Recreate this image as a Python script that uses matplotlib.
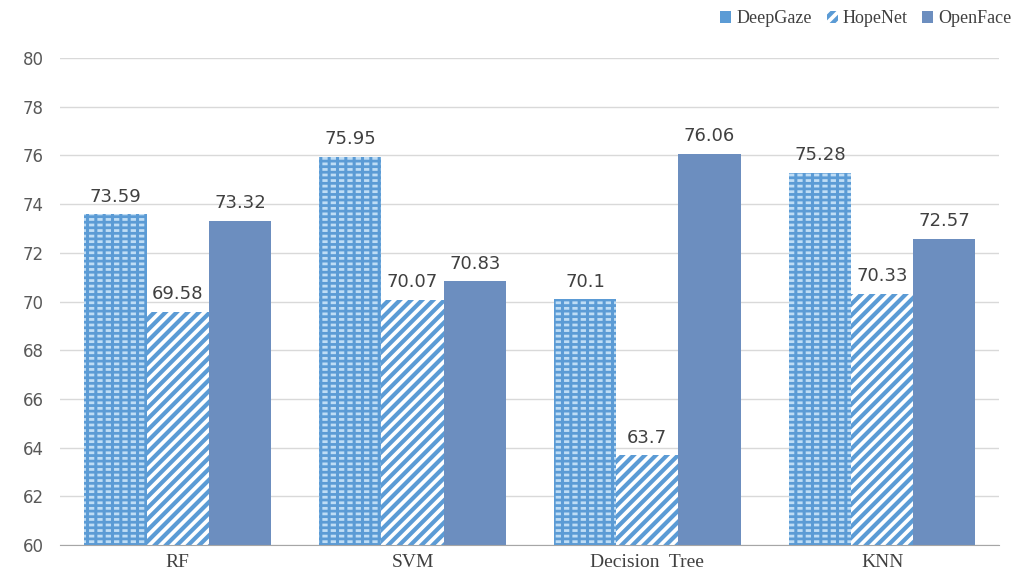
import matplotlib.pyplot as plt
import numpy as np

categories = ["RF", "SVM", "Decision  Tree", "KNN"]
deepgaze = [73.59, 75.95, 70.1, 75.28]
hopenet = [69.58, 70.07, 63.7, 70.33]
openface = [73.32, 70.83, 76.06, 72.57]
series_names = ["DeepGaze", "HopeNet", "OpenFace"]

blue = "#5B9BD5"
light = "#BFDDF5"
dark = "#6C8EBF"
txt = "#404040"

fig = plt.figure(figsize=(10.23, 5.85), dpi=100)
ax = fig.add_axes([0.059, 0.068, 0.918, 0.833])

x = np.arange(len(categories))
w = 0.265
base = 60
dg = np.array(deepgaze) - base
hn = np.array(hopenet) - base
of = np.array(openface) - base

# DeepGaze: blue with light dashes
plt.rcParams['hatch.linewidth'] = 2.0
b1 = ax.bar(x - w, dg, w, bottom=base, color=blue, linewidth=0, zorder=2)
ax.bar(x - w, dg, w, bottom=base, facecolor="none", edgecolor=light,
       hatch="---", linewidth=0, zorder=3)
plt.rcParams['hatch.linewidth'] = 2.2
ax.bar(x - w, dg, w, bottom=base, facecolor="none", edgecolor=blue,
       hatch="||", linewidth=0, zorder=3)

# HopeNet: blue diagonal stripes on white
plt.rcParams['hatch.linewidth'] = 3.0
b2 = ax.bar(x, hn, w, bottom=base, facecolor="white", edgecolor=blue,
            hatch="///", linewidth=0, zorder=2)

b3 = ax.bar(x + w, of, w, bottom=base, color=dark, linewidth=0, zorder=2)

for off, vals in [(-w, deepgaze), (0, hopenet), (w, openface)]:
    for xi, v in zip(x, vals):
        ax.text(xi + off, v + 0.35, f"{v:g}", ha="center", va="bottom", fontsize=13,
                color=txt, family="DejaVu Sans", zorder=4)

ax.set_ylim(60, 80)
ax.set_xlim(-0.5, 3.5)
ax.set_yticks(np.arange(60, 81, 2))
ax.yaxis.grid(True, color="#D9D9D9", linewidth=1, zorder=0)
ax.set_axisbelow(True)
for s in ["top", "right", "left"]:
    ax.spines[s].set_visible(False)
ax.spines["bottom"].set_color("#A6A6A6")
ax.tick_params(axis="y", length=0, labelsize=12, labelcolor="#595959", pad=12)
ax.tick_params(axis="x", length=0, pad=6)
ax.set_xticks(x)
ax.set_xticklabels(categories, fontsize=14, family="Liberation Serif", color=txt)

leg = fig.legend([b1, b2, b3], series_names, loc="upper right", bbox_to_anchor=(1.005, 1.01),
                 ncol=3, frameon=False, prop={"family": "Liberation Serif", "size": 13},
                 handlelength=0.6, handleheight=0.6, handletextpad=0.3, columnspacing=0.8)
for t in leg.get_texts():
    t.set_color(txt)

fig.savefig("out.png", dpi=100)
